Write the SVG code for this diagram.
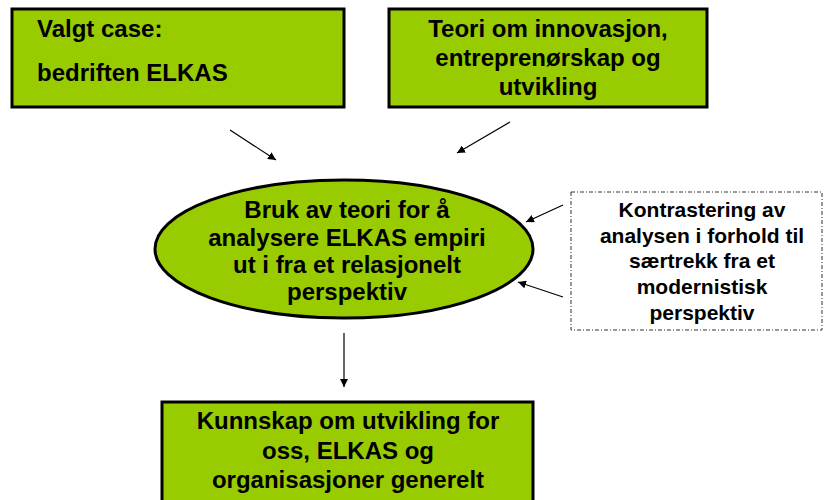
<svg xmlns="http://www.w3.org/2000/svg" width="824" height="500" viewBox="0 0 824 500">
<defs>
<style>
.box{fill:#99CC00;stroke:#000;stroke-width:3}
.t{font-family:"Liberation Sans",Arial,sans-serif;font-weight:bold;font-size:24px;fill:#000}
.s{font-family:"Liberation Sans",Arial,sans-serif;font-weight:bold;font-size:21px;fill:#000}
.c{text-anchor:middle}
.conn{stroke:#000;stroke-width:1.2;fill:none;marker-end:url(#ah)}
</style>
<marker id="ah" viewBox="0 0 10 10" refX="10" refY="5" markerWidth="8" markerHeight="8" markerUnits="userSpaceOnUse" orient="auto">
<path d="M0,0 L10,5 L0,10 z" fill="#000"/>
</marker>
</defs>
<rect width="824" height="500" fill="#fff"/>
<g id="case">
<rect class="box" x="12" y="9" width="332" height="98"/>
<text class="t" x="37" y="37">Valgt case:</text>
<text class="t" x="37" y="81">bedriften ELKAS</text>
</g>
<g id="teori">
<rect class="box" x="389" y="9" width="318" height="98"/>
<text class="t c" x="548" y="37">Teori om innovasjon,</text>
<text class="t c" x="548" y="66">entreprenørskap og</text>
<text class="t c" x="548" y="95">utvikling</text>
</g>
<g id="analyse">
<ellipse cx="344" cy="249" rx="189" ry="69" fill="#99CC00" stroke="#000" stroke-width="3"/>
<text class="t c" x="347" y="218">Bruk av teori for å</text>
<text class="t c" x="347" y="246">analysere ELKAS empiri</text>
<text class="t c" x="347" y="273">ut i fra et relasjonelt</text>
<text class="t c" x="347" y="300">perspektiv</text>
</g>
<g id="kontrast">
<rect x="571" y="192" width="251" height="138" fill="#fff" stroke="#333" stroke-width="1" stroke-dasharray="4,2,1,2"/>
<text class="s c" x="702" y="217">Kontrastering av</text>
<text class="s c" x="702" y="243">analysen i forhold til</text>
<text class="s c" x="702" y="268">særtrekk fra et</text>
<text class="s c" x="702" y="294">modernistisk</text>
<text class="s c" x="702" y="320">perspektiv</text>
</g>
<g id="kunnskap">
<rect class="box" x="162" y="402" width="371" height="110"/>
<text class="t c" x="348" y="429">Kunnskap om utvikling for</text>
<text class="t c" x="348" y="459">oss, ELKAS og</text>
<text class="t c" x="348" y="488">organisasjoner generelt</text>
</g>
<g id="connectors">
<line class="conn" x1="230" y1="130" x2="276" y2="160"/>
<line class="conn" x1="510" y1="122" x2="457" y2="153"/>
<line class="conn" x1="563" y1="205" x2="526" y2="222"/>
<line class="conn" x1="563" y1="297" x2="518" y2="282"/>
<line class="conn" x1="344" y1="333" x2="344" y2="387"/>
</g>
</svg>
